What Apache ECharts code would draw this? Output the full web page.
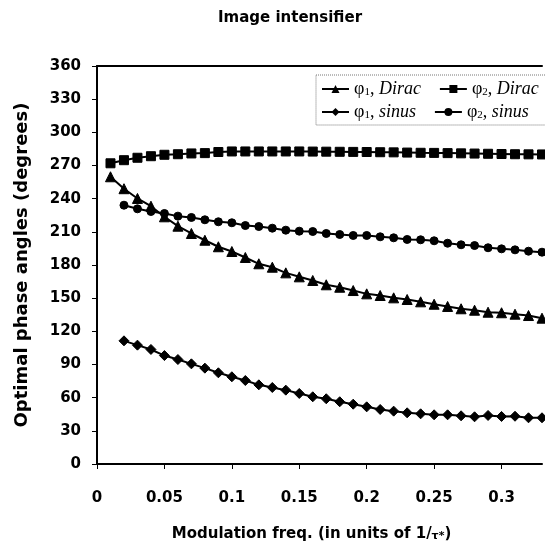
<!DOCTYPE html>
<html>
<head>
<meta charset="utf-8">
<script src="https://cdn.jsdelivr.net/npm/echarts@6/dist/echarts.min.js"></script>
<style>html,body{margin:0;padding:0;background:#fff}#c{width:545px;height:547px}</style>
</head>
<body>
<div id="c"></div>
<script>
const freqDirac = [0.01,0.02,0.03,0.04,0.05,0.06,0.07,0.08,0.09,0.10,0.11,0.12,0.13,0.14,0.15,0.16,0.17,0.18,0.19,0.20,0.21,0.22,0.23,0.24,0.25,0.26,0.27,0.28,0.29,0.30,0.31,0.32,0.33];
const freqSinus = [0.02,0.03,0.04,0.05,0.06,0.07,0.08,0.09,0.10,0.11,0.12,0.13,0.14,0.15,0.16,0.17,0.18,0.19,0.20,0.21,0.22,0.23,0.24,0.25,0.26,0.27,0.28,0.29,0.30,0.31,0.32,0.33];
const phi1Dirac = [259.8,249,240.2,233.2,223.6,215.1,208.5,202.4,196.5,192.2,186.8,181.1,178,172.9,169.3,166,162.1,159.9,156.9,153.9,152.4,150.3,148.8,146.7,144.5,142.5,140.4,139.1,137.3,136.8,135.5,134.3,131.9];
const phi2Dirac = [272,274.8,277,278.4,279.7,280.2,280.9,281.2,282.2,282.7,282.7,282.7,282.7,282.7,282.7,282.6,282.5,282.4,282.3,282.2,282,281.9,281.7,281.5,281.4,281.2,281,280.8,280.6,280.4,280.2,280.1,280];
const phi1Sinus = [111.4,107.5,103.6,98.1,94.5,90.6,86.7,82.5,78.9,75.5,71.6,69.2,66.8,63.8,60.8,59,56.3,54.1,51.7,49.3,47.8,46.3,45.4,44.5,44.5,43.6,42.7,43.9,43,43.2,41.8,41.8];
const phi2Sinus = [234.1,230.8,228.4,226.6,224.2,223,220.9,219.1,218.2,215.7,214.8,213.3,211.5,210.6,210.3,208.5,207.6,206.7,206.7,205.5,204.6,203.1,202.8,201.9,199.7,198.3,197.6,195.6,194.6,193.7,192.5,191.6];
const yTicks = {min: 0, max: 360, interval: 30};
const xTicks = {min: 0, max: 0.33, interval: 0.05};
const xLabels = ['0','0.05','0.1','0.15','0.2','0.25','0.3'];

const legendNames = [
  {name: 'phi1Dirac', sub: '1', word: 'Dirac'},
  {name: 'phi2Dirac', sub: '2', word: 'Dirac'},
  {name: 'phi1Sinus', sub: '1', word: 'sinus'},
  {name: 'phi2Sinus', sub: '2', word: 'sinus'}
];

function pairs(xs, ys) { return xs.map((x, i) => [x, ys[i]]); }

const boldFont = 'DejaVu Sans';
const chart = echarts.init(document.getElementById('c'), null, {renderer: 'canvas'});

function mkSeries(name, xs, ys, symbol, size) {
  return {
    name: name, type: 'line', data: pairs(xs, ys),
    symbol: symbol, symbolSize: size,
    lineStyle: {color: '#000', width: 2},
    itemStyle: {color: '#000', borderColor: '#000'},
    animation: false, z: 3
  };
}

chart.setOption({
  animation: false,
  backgroundColor: '#fff',
  title: {
    text: 'Image intensifier',
    left: 285, top: 6, textAlign: 'center',
    textStyle: {fontFamily: boldFont, fontWeight: 'bold', fontSize: 15, color: '#000'}
  },
  legend: {
    left: 316, top: 75, width: 240,
    orient: 'horizontal',
    padding: [5, 5, 4, 5], itemGap: 5,
    itemWidth: 27, itemHeight: 10,
    borderColor: '#777', borderWidth: 1, borderType: 'dotted',
    backgroundColor: '#fff',
    data: legendNames.map(l => l.name),
    formatter: function (n) {
      const l = legendNames.find(v => v.name === n);
      return '{p|\u03c6}{s|' + l.sub + '}{c|, }{i|' + l.word + '}';
    },
    textStyle: {
      color: '#000',
      rich: {
        p: {fontFamily: 'Liberation Serif', fontSize: 18, lineHeight: 20, color: '#000'},
        s: {fontFamily: 'Liberation Serif', fontSize: 11, lineHeight: 20, padding: [6, 0, 0, 0], color: '#000'},
        c: {fontFamily: 'Liberation Serif', fontSize: 18, lineHeight: 20, color: '#000'},
        i: {fontFamily: 'Liberation Serif', fontStyle: 'italic', fontSize: 18, lineHeight: 20, color: '#000', padding: [0, 13, 0, 0]}
      }
    }
  },
  grid: {left: 97, right: 3, top: 66, bottom: 82.5, containLabel: false},
  xAxis: [{
    type: 'value', position: 'bottom',
    min: xTicks.min, max: xTicks.max, interval: xTicks.interval,
    splitLine: {show: false},
    axisLine: {show: true, onZero: false, lineStyle: {color: '#000', width: 2}},
    axisTick: {show: true, inside: false, length: 5, lineStyle: {color: '#000', width: 1}},
    axisLabel: {
      margin: 27, color: '#000', fontFamily: boldFont, fontWeight: 'bold', fontSize: 15,
      showMaxLabel: false,
      formatter: function (v) {
        const i = Math.round(v / xTicks.interval);
        return Math.abs(i * xTicks.interval - v) < 1e-9 && xLabels[i] !== undefined ? xLabels[i] : '';
      }
    },
    name: 'Modulation freq. (in units of 1/{t|\u03c4*})',
    nameLocation: 'middle', nameGap: 62,
    nameTextStyle: {
      color: '#000', fontFamily: boldFont, fontWeight: 'bold', fontSize: 15,
      padding: [0, 16, 0, 0],
      rich: {t: {fontFamily: boldFont, fontWeight: 'bold', fontSize: 11, padding: [5, 0, 0, 0], color: '#000'}}
    }
  }, {
    type: 'value', position: 'top',
    min: xTicks.min, max: xTicks.max,
    splitLine: {show: false},
    axisLine: {show: true, onZero: false, lineStyle: {color: '#000', width: 2}},
    axisTick: {show: false}, axisLabel: {show: false}
  }],
  yAxis: {
    type: 'value',
    min: yTicks.min, max: yTicks.max, interval: yTicks.interval,
    splitLine: {show: false},
    axisLine: {show: true, onZero: false, lineStyle: {color: '#000', width: 2}},
    axisTick: {show: true, inside: false, length: 5, lineStyle: {color: '#000', width: 1}},
    axisLabel: {margin: 16, color: '#000', fontFamily: boldFont, fontWeight: 'bold', fontSize: 15},
    name: 'Optimal phase angles (degrees)',
    nameLocation: 'middle', nameGap: 66, nameRotate: 90,
    nameTextStyle: {color: '#000', fontFamily: boldFont, fontWeight: 'bold', fontSize: 18}
  },
  series: [
    mkSeries('phi1Dirac', freqDirac, phi1Dirac, 'triangle', 10),
    mkSeries('phi2Dirac', freqDirac, phi2Dirac, 'rect', 9),
    mkSeries('phi1Sinus', freqSinus, phi1Sinus, 'diamond', 10),
    mkSeries('phi2Sinus', freqSinus, phi2Sinus, 'circle', 8)
  ]
});
</script>
</body>
</html>
